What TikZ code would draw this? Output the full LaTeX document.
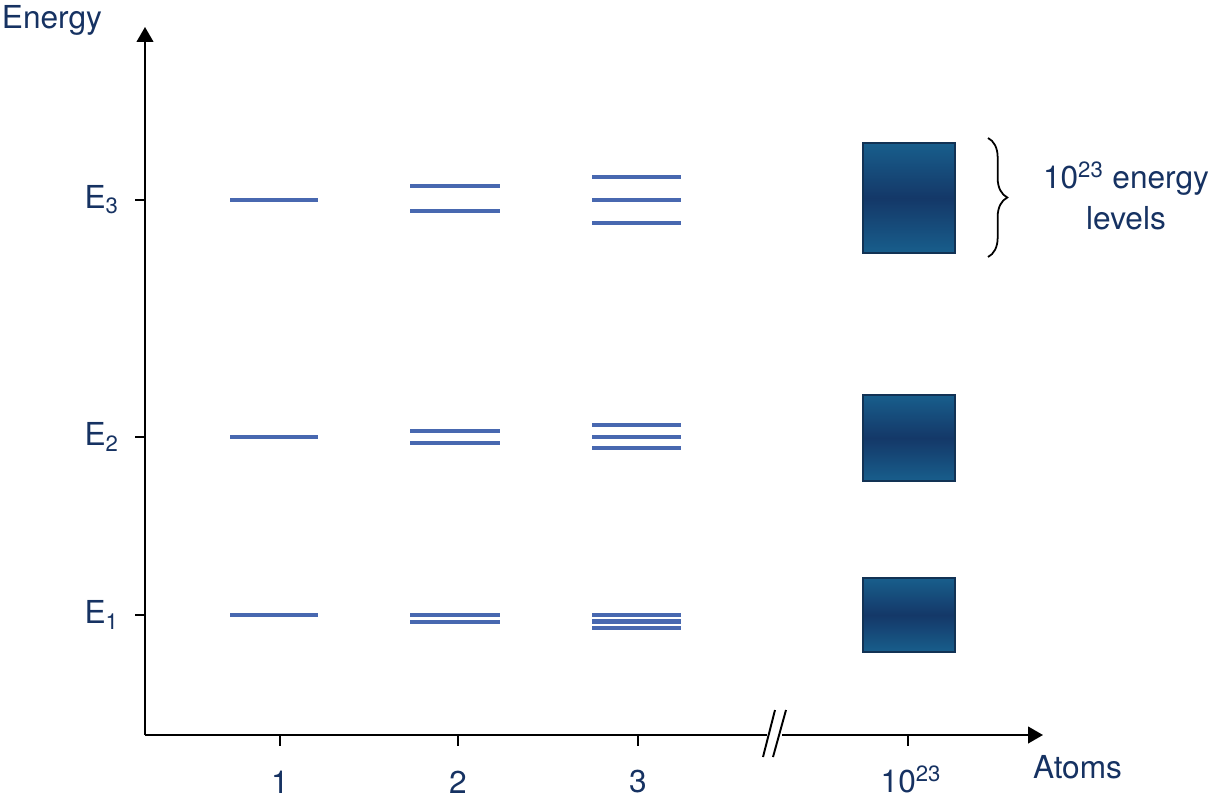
\documentclass[tikz,border=0pt]{standalone}
\usepackage{fontspec}
\setmainfont{TeX Gyre Heros}
\usepackage{tikz}
\usetikzlibrary{arrows.meta,decorations.pathreplacing}
\definecolor{textnavy}{RGB}{22,50,98}
\definecolor{levelblue}{RGB}{72,104,176}
\definecolor{bandedge}{RGB}{24,94,140}
\definecolor{bandmid}{RGB}{20,56,104}
\definecolor{bandline}{RGB}{18,50,84}

\begin{document}
\begin{tikzpicture}[x=0.02cm, y=-0.02cm,
  every node/.style={font=\fontsize{18}{23}\selectfont, text=textnavy, inner sep=1pt},
  axis/.style={line width=1.1pt, black},
  axisarrow/.style={axis, -{Triangle[length=8.5pt, width=9.5pt]}},
  tick/.style={line width=1pt, black},
  level/.style={draw=levelblue, line width=2.3pt},
  band/.style={draw=bandline, line width=0.6pt, top color=bandedge, bottom color=bandedge, middle color=bandmid},
  bracestyle/.style={line width=1pt, black, decorate, decoration={brace, amplitude=11pt}}
]
  \useasboundingbox (0,0) rectangle (1217,800);

  % axes
  \coordinate (origin) at (145,735);
  \coordinate (ytop) at (145,27);
  \coordinate (brkL) at (767,735);
  \coordinate (brkR) at (782,735);
  \coordinate (xend) at (1043,735);
  \draw[axisarrow] (origin) -- (ytop);
  \draw[axis] (origin) -- (brkL);
  \draw[axisarrow] (brkR) -- (xend);
  \draw[axis] (763,757) -- (775,710);
  \draw[axis] (773,757) -- (786,710);

  \node (energy) at (52,20) {Energy};
  \node[anchor=west] (atoms) at (1031,767) {Atoms};

  % energy ticks
  \foreach \y/\n in {615/1, 437/2, 200/3} {
    \draw[tick] (135,\y) -- (145,\y);
    \node[anchor=east] (E\n) at (121,\y) {E\textsubscript{\n}};
  }

  % atom ticks
  \foreach \x/\n in {280/1, 458/2, 638/3} {
    \draw[tick] (\x,735) -- (\x,746);
    \node (n\n) at (\x,782) {\n};
  }
  \draw[tick] (908,735) -- (908,746);
  \node (nbig) at (911,779) {10\textsuperscript{23}};

  % discrete levels
  \foreach \y in {200,437,615} \draw[level] (230,\y) -- (318,\y);
  \foreach \y in {186,211,431,443,615,622} \draw[level] (410,\y) -- (500,\y);
  \foreach \y in {177,200,223,425,437,448,615,621.5,628} \draw[level] (592,\y) -- (681,\y);

  % bands
  \foreach \t/\b in {143/253, 395/481, 578/652} \shade[band] (863,\t) rectangle (955,\b);

  \coordinate (bracetop) at (988,138);
  \coordinate (bracebot) at (988,257);
  \draw[bracestyle] (bracetop) -- (bracebot);
  \node[align=center] (levels) at (1126,196) {10\textsuperscript{23} energy\\levels};
\end{tikzpicture}
\end{document}
